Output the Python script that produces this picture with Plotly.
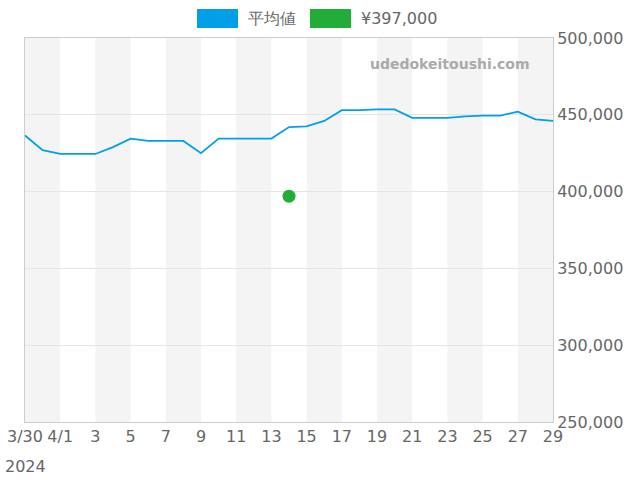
import plotly.graph_objects as go
import pandas as pd

dates = pd.date_range("2024-03-30", "2024-04-29").strftime("%Y-%m-%d").tolist()
avg = [436500, 427000, 424500, 424500, 424500, 429000, 434500, 433000, 433000, 433000,
       425000, 434500, 434500, 434500, 434500, 442000, 442500, 446000, 453000, 453000,
       453500, 453500, 448000, 448000, 448000, 449000, 449500, 449500, 452000, 447000, 446000]
point_date = ["2024-04-14"]
point_val = [397000]
tick_vals = dates[::2]
tick_text = ["3/30", "4/1"] + [d[8:].lstrip("0") for d in dates[4::2]]

W, H, L, R, T, B = 640, 480, 25, 87, 38, 58
pw, ph = W - L - R, H - T - B
def px(x): return (x - L) / pw
def py(y): return (H - B - y) / ph

fig = go.Figure()
shapes = []
for i in range(0, 30, 4):
    shapes.append(dict(type="rect", xref="x", yref="paper", x0=dates[i], x1=dates[i + 2],
                       y0=0, y1=1, fillcolor="#f4f4f4", line_width=0, layer="below"))
shapes.append(dict(type="rect", xref="paper", yref="paper", x0=px(197), x1=px(238), y0=py(28), y1=py(9),
                   fillcolor="#009fe8", line_width=0))
shapes.append(dict(type="rect", xref="paper", yref="paper", x0=px(310), x1=px(351), y0=py(28), y1=py(9),
                   fillcolor="#22ac38", line_width=0))
fig.add_trace(go.Scatter(x=dates, y=avg, mode="lines", name="平均値",
                         line=dict(color="#009fe8", width=1.8)))
fig.add_trace(go.Scatter(x=point_date, y=point_val, mode="markers", name="¥397,000",
                         marker=dict(color="#22ac38", size=13)))
fig.update_layout(
    width=W, height=H, plot_bgcolor="white", paper_bgcolor="white", showlegend=False,
    margin=dict(l=L, r=R, t=T, b=B, autoexpand=False), shapes=shapes,
    font=dict(family="DejaVu Sans", size=16, color="#666"),
    annotations=[
        dict(text="平均値", xref="paper", yref="paper", x=px(246), y=py(19), xanchor="left",
             yanchor="middle", showarrow=False, font=dict(size=16, color="#666")),
        dict(text="¥397,000", xref="paper", yref="paper", x=px(359), y=py(19), xanchor="left",
             yanchor="middle", showarrow=False, font=dict(size=16, color="#666")),
        dict(text="<b>udedokeitoushi.com</b>", xref="paper", yref="paper", x=px(532), y=py(64),
             xanchor="right", yanchor="middle", showarrow=False,
             font=dict(size=14, color="#aaa", family="DejaVu Sans")),
        dict(text="2024", xref="paper", yref="paper", x=px(3), y=py(466), xanchor="left",
             yanchor="middle", showarrow=False, font=dict(size=16, color="#666"))],
)
fig.update_xaxes(range=[dates[0], dates[-1]], tickvals=tick_vals, ticktext=tick_text,
                 showgrid=False, showline=True, linecolor="#ccc", mirror=True, ticks="")
fig.update_yaxes(range=[250000, 500000], side="right", tickvals=[250000, 300000, 350000, 400000, 450000, 500000],
                 tickformat=",", gridcolor="#e5e5e5", showline=True, linecolor="#ccc", mirror=True)
fig.write_html("out.html", config={"displayModeBar": False},
               post_script="document.body.style.margin='0';document.body.style.overflow='hidden';")
